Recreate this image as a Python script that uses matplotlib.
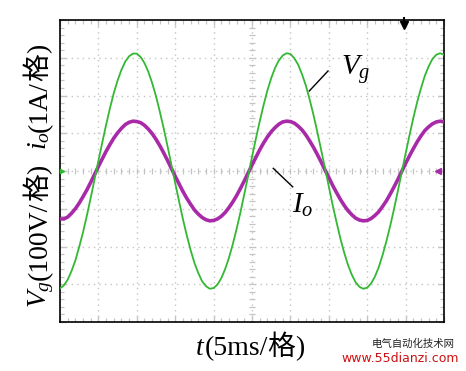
import numpy as np
import matplotlib
matplotlib.use("Agg")
import matplotlib.pyplot as plt
from matplotlib.transforms import IdentityTransform

plt.rcParams['mathtext.fontset'] = 'custom'
plt.rcParams['mathtext.rm'] = 'Liberation Serif'
plt.rcParams['mathtext.it'] = 'Liberation Serif:italic'

# ---- data (every 0.5 ms) ----
t_ms = [i * 0.5 for i in range(101)]  # time, ms
vg_volts = [-311, -303, -288, -265, -237, -201, -162, -118, -71, -22,
            27, 75, 122, 166, 206, 240, 268, 290, 304, 311,
            311, 302, 286, 263, 233, 198, 157, 113, 66, 17,
            -32, -80, -127, -170, -209, -243, -270, -292, -305, -312,
            -310, -301, -284, -260, -230, -194, -153, -109, -61, -13,
            37, 85, 131, 174, 213, 246, 273, 293, 306, 312,
            310, 299, 282, 257, 227, 190, 149, 104, 56, 8,
            -41, -90, -135, -178, -216, -249, -275, -295, -307, -312,
            -309, -298, -280, -255, -223, -186, -145, -100, -52, -3,
            46, 94, 140, 182, 219, 252, 277, 297, 308, 312, 308]
io_amps = [-1.27, -1.27, -1.22, -1.12, -1.00, -0.85, -0.68, -0.50, -0.30, -0.09,
           0.12, 0.32, 0.52, 0.70, 0.87, 1.01, 1.13, 1.23, 1.29, 1.32,
           1.31, 1.28, 1.21, 1.11, 0.99, 0.84, 0.67, 0.48, 0.28, 0.07,
           -0.14, -0.34, -0.54, -0.72, -0.88, -1.03, -1.14, -1.23, -1.29, -1.32,
           -1.31, -1.27, -1.20, -1.10, -0.97, -0.82, -0.65, -0.46, -0.26, -0.05,
           0.16, 0.36, 0.56, 0.74, 0.90, 1.04, 1.15, 1.24, 1.30, 1.32,
           1.31, 1.27, 1.19, 1.09, 0.96, 0.80, 0.63, 0.44, 0.24, 0.03,
           -0.17, -0.38, -0.57, -0.75, -0.91, -1.05, -1.16, -1.25, -1.30, -1.32,
           -1.31, -1.26, -1.18, -1.08, -0.94, -0.79, -0.61, -0.42, -0.22, -0.01,
           0.20, 0.40, 0.59, 0.77, 0.93, 1.07, 1.17, 1.25, 1.30, 1.32, 1.30]
vg_scale = 100.0   # V per division
io_scale = 1.0     # A per division
ms_per_div = 5
n_xdiv, n_ydiv = 10, 8
trigger_ms = 44.8

GREEN = '#33b833'
MAGENTA = '#a82aa8'
GRID = '#c4c4c4'

W, H = 466, 371
fig = plt.figure(figsize=(W / 100, H / 100), dpi=100)
ax = fig.add_axes([60 / W, (H - 322) / H, 384 / W, 302 / H])
xmax = ms_per_div * n_xdiv
ax.set_xlim(0, xmax)
ax.set_ylim(-n_ydiv / 2, n_ydiv / 2)

# grid
for gx in np.arange(ms_per_div, xmax, ms_per_div):
    ax.axvline(gx, color=GRID, lw=1.0, ls=(0, (1, 3)), zorder=1)
for gy in np.arange(-n_ydiv / 2 + 1, n_ydiv / 2, 1):
    ax.axhline(gy, color=GRID, lw=1.0, ls=(0, (1, 3)), zorder=1)
# centre-line minor ticks
mx = np.arange(0, xmax + 0.01, ms_per_div / 5)
my = np.arange(-n_ydiv / 2, n_ydiv / 2 + 0.01, 0.2)
ax.plot(mx, np.zeros_like(mx), ls='none', marker='|', ms=4, mew=0.9, color=GRID, zorder=1)
ax.plot(np.full_like(my, xmax / 2), my, ls='none', marker='_', ms=4, mew=0.9, color=GRID, zorder=1)

ax.set_xticks(np.arange(0, xmax + 0.1, ms_per_div))
ax.set_yticks(np.arange(-n_ydiv / 2, n_ydiv / 2 + 0.1, 1))
ax.set_xticks(mx, minor=True)
ax.set_yticks(my, minor=True)
ax.tick_params(which='both', direction='in', top=True, right=True, labelbottom=False,
               labelleft=False, color=GRID)
ax.tick_params(which='major', length=4, width=1)
ax.tick_params(which='minor', length=3, width=0.9)
for s in ax.spines.values():
    s.set_color('black')
    s.set_linewidth(1.2)

# traces
ax.plot(t_ms, np.array(io_amps) / io_scale, color=MAGENTA, lw=2.6, zorder=3)
ax.plot(t_ms, np.array(vg_volts) / vg_scale, color=GREEN, lw=1.3, zorder=4)

# scope markers
ax.plot([trigger_ms], [3.88], marker='v', ms=6, color='black', clip_on=False, zorder=5)
ax.plot([trigger_ms], [3.95], marker='|', ms=7, mew=1.5, color='black', clip_on=False, zorder=5)
ax.plot([xmax - 0.8], [0], marker='<', ms=5, color=MAGENTA, clip_on=False, zorder=5)
ax.plot([0.2], [0], marker='>', ms=3, color=GREEN, clip_on=False, zorder=5)

# annotations
ax.text(36.6, 2.54, r'$V_g$', fontsize=21, ha='left', va='baseline')
ax.plot([34.9, 32.46], [2.65, 2.12], color='black', lw=1.0, zorder=5)
ax.text(30.17, -1.12, r'$I_o$', fontsize=21, ha='left', va='baseline')
ax.plot([27.77, 30.3], [0.07, -0.42], color='black', lw=1.0, zorder=5)

# chained labels with CJK pieces
fig.canvas.draw()
renderer = fig.canvas.get_renderer()
SERIF = dict(family='Liberation Serif')
CJK = dict(family='Noto Sans CJK SC')

def chain(x, y, pieces, rotation, size):
    for s, fam, gap in pieces:
        if s == '':
            if rotation:
                y += gap
            else:
                x += gap
            continue
        txt = fig.text(x, y, s, transform=IdentityTransform(), rotation=rotation,
                       rotation_mode='anchor', ha='left', va='baseline',
                       fontsize=size, **fam)
        bb = txt.get_window_extent(renderer)
        if rotation:
            y += bb.height + gap
        else:
            x += bb.width + gap

chain(46.5, H - 308, [(r'$V_g$', SERIF, 0), ('(100V/', SERIF, 0), ('格', CJK, 0), (')', SERIF, 0),
                      ('', None, 14),
                      (r'$i_o$', SERIF, 0), ('(1A/', SERIF, 0), ('格', CJK, 0), (')', SERIF, 0)],
      90, 20)
chain(195, H - 355, [(r'$t$', SERIF, -1), ('(5ms/', SERIF, 0), ('格', CJK, 0), (')', SERIF, 0)],
      0, 20)

# watermark
fig.text(413 / W, (H - 344) / H, '电气自动化技术网', fontsize=7.5, family='Noto Sans CJK SC',
         ha='center', va='center', color='#222222')
fig.text(459 / W, (H - 359) / H, 'www.55dianzi.com', fontsize=9, family='DejaVu Sans',
         ha='right', va='center', color='#cc1111')

fig.savefig('out.png', dpi=100)
